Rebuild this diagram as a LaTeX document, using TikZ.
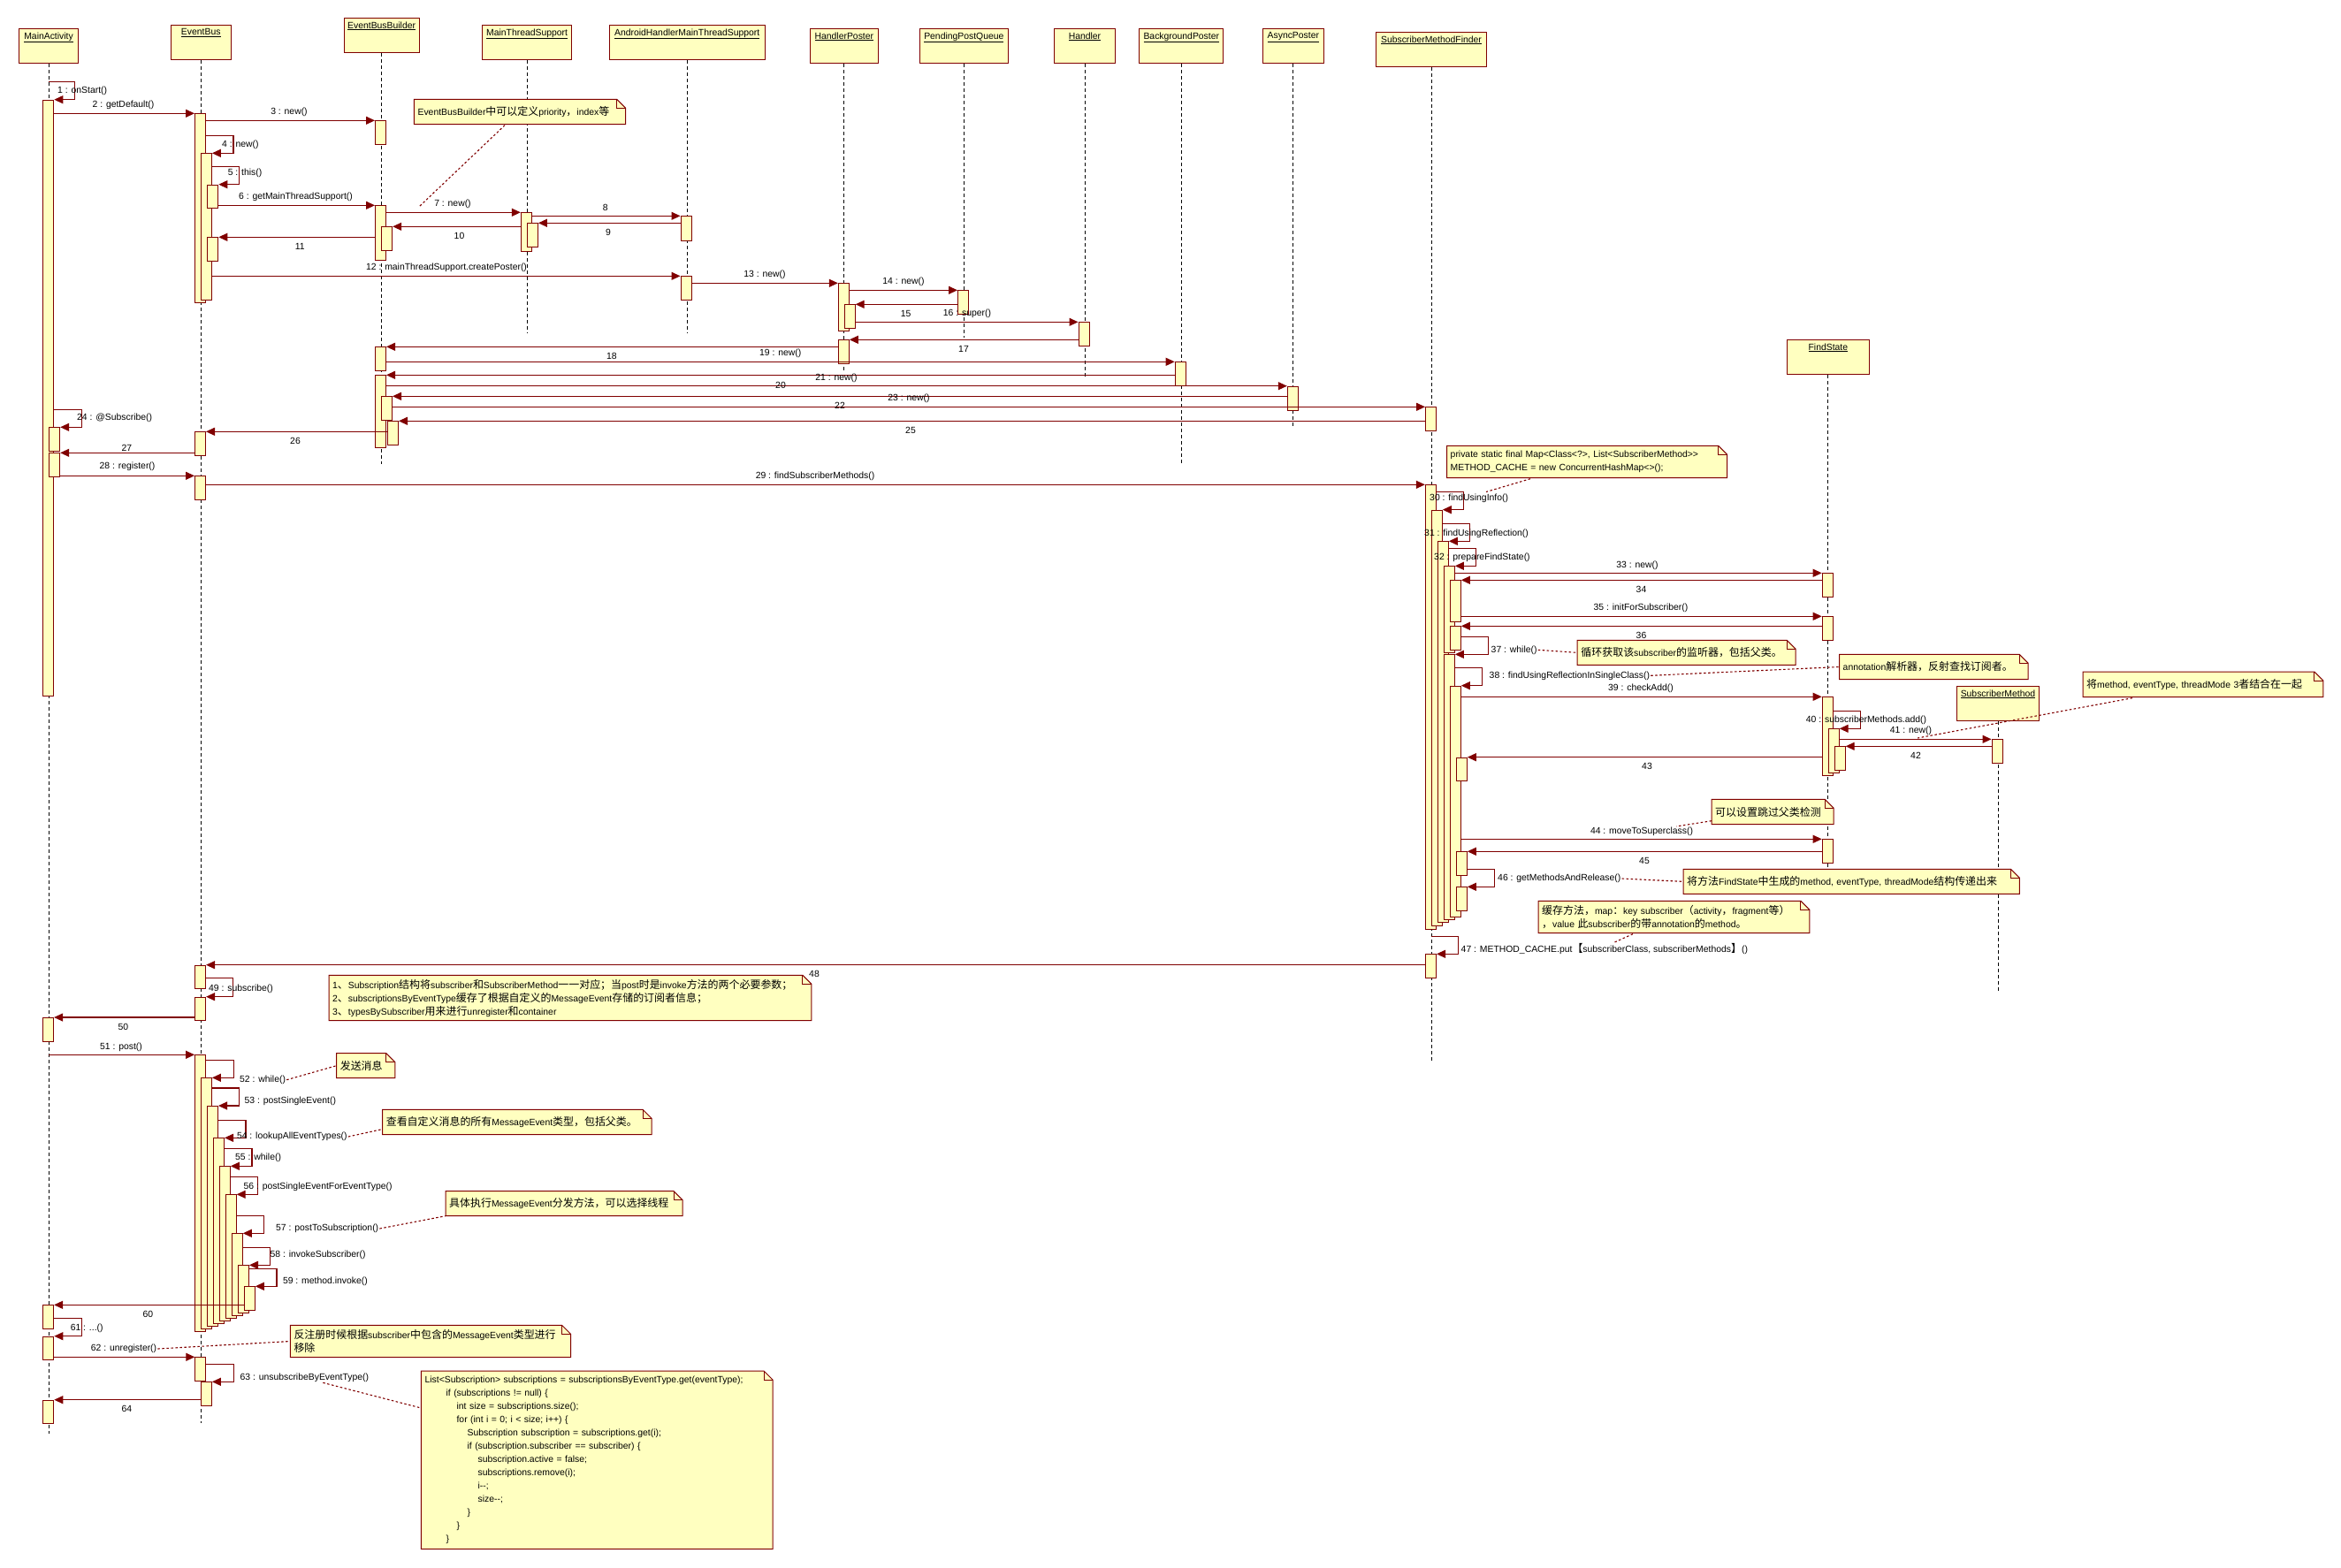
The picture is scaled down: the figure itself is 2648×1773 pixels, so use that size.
\documentclass[tikz,border=0pt]{standalone}
\usepackage{fontspec}
\setmainfont{Liberation Sans}
\newfontfamily\cjk{Noto Sans CJK SC}[Scale=1.15]
\usepackage{tikz}
\usetikzlibrary{arrows.meta}
\usetikzlibrary{calc}

\definecolor{lnred}{RGB}{128,0,0}
\definecolor{boxfill}{RGB}{255,255,192}

\newcommand\diafont{\fontsize{10.4}{15}\selectfont}
\newcommand\zh[1]{{\cjk #1}}
% folded corner of a note
\newcommand\dogear[1]{%
  \fill[white] ([xshift=-10pt]#1.north east) -- (#1.north east) -- ([yshift=-10pt]#1.north east) -- cycle;
  \draw[notebd] (#1.south west) -- (#1.north west) -- ([xshift=-10pt]#1.north east)
    -- ([yshift=-10pt]#1.north east) -- (#1.south east) -- cycle;
  \draw[notebd] ([xshift=-10pt]#1.north east) -- ([xshift=-10pt,yshift=-10pt]#1.north east) -- ([yshift=-10pt]#1.north east);
}

\tikzset{
  obj/.style={draw=lnred, fill=boxfill, line width=1pt, minimum height=39, inner sep=0pt, anchor=north west},
  objtxt/.style={anchor=north, yshift=-3pt, inner sep=1pt},
  bar/.style={draw=lnred, fill=boxfill, line width=1pt, minimum width=12, inner sep=0pt, anchor=north},
  life/.style={line width=0.8pt, dash pattern=on 4pt off 3pt},
  call/.style={draw=lnred, line width=1.1pt, -{Triangle[length=10pt,width=9pt]}},
  lbl/.style={inner sep=1pt},
  note/.style={anchor=north west, fill=boxfill, inner sep=4pt, align=left},
  notebd/.style={draw=lnred, line width=1pt},
  notelink/.style={draw=lnred, line width=1.1pt, dash pattern=on 2.5pt off 2.5pt},
}

\begin{document}
\begin{tikzpicture}[x=1pt, y=-1pt, every node/.style={font=\diafont}]
            \fill[white] (0,0) rectangle (2648,1773);

            % objects
            \node[obj, minimum width=67.7, label={[objtxt]north:\underline{MainActivity}}] (ma) at (20.7,32.3) {};
            \node[obj, minimum width=67.7, label={[objtxt]north:\underline{EventBus}}] (eb) at (192.9,28.3) {};
            \node[obj, minimum width=85, label={[objtxt]north:\underline{EventBusBuilder}}] (bb) at (388.6,20.3) {};
            \node[obj, minimum width=101.6, label={[objtxt]north:\underline{MainThreadSupport}}] (mts) at (544.8,28.3) {};
            \node[obj, minimum width=175.6, label={[objtxt]north:\underline{AndroidHandlerMainThreadSupport}}] (ah) at (688.9,28.3) {};
            \node[obj, minimum width=76.3, label={[objtxt]north:\underline{HandlerPoster}}] (hp) at (916.2,32.3) {};
            \node[obj, minimum width=99.3, label={[objtxt]north:\underline{PendingPostQueue}}] (ppq) at (1040.2,32.3) {};
            \node[obj, minimum width=68.3, label={[objtxt]north:\underline{Handler}}] (hd) at (1192.3,32.3) {};
            \node[obj, minimum width=95.2, label={[objtxt]north:\underline{BackgroundPoster}}] (bp) at (1288.2,32.3) {};
            \node[obj, minimum width=68.3, label={[objtxt]north:\underline{AsyncPoster}}] (ap) at (1428.2,32.3) {};
            \node[obj, minimum width=124.6, label={[objtxt]north:\underline{SubscriberMethodFinder}}] (smf) at (1556.2,36.3) {};
            \node[obj, minimum width=93.3, label={[objtxt]north:\underline{FindState}}] (fs) at (2020.7,384.3) {};
            \node[obj, minimum width=93.3, label={[objtxt]north:\underline{SubscriberMethod}}] (sm) at (2212.8,776.3) {};

            % lifelines
            \foreach \o/\e in {ma/1622, eb/1610, bb/525, mts/377, ah/377, hp/420, ppq/382,
                               hd/429, bp/525, ap/483, smf/1200, fs/985, sm/1123}
                \draw[life] (\o.south) -- (\o.south |- 0,\e);

            % activation bars
            \foreach \n/\x/\y/\h in {ma1/54.8/112.7/674.3, ma2/61.7/483.3/27, ma3/61.7/512.3/27,
                    ma4/54.6/1151/27.3, ma5/54.6/1476.3/27, ma6/54.8/1511.7/26.6, ma7/54.8/1583.7/26.6,
                    eb1/226.5/128.3/214, eb2/233.4/173.3/166, eb3/240.8/208.7/26.6, eb4/240.8/268.3/27,
                    eb5/226.5/488.3/27, eb6/226.5/538.3/27, eb7/226.6/1091.7/26.6, eb8/226.6/1127.7/26.6,
                    eb9/226.6/1193.3/312.7, eb10/233.4/1219.3/283.7, eb11/240.5/1251/249,
                    eb12/247.5/1287.3/209.7, eb13/254.3/1319.3/174.7, eb14/261.2/1351.3/139.7,
                    eb15/268.3/1395.3/92.7, eb16/275.5/1431.3/53.7, eb17/282.3/1455.3/26.7,
                    eb18/226.8/1535.3/27, eb19/233.4/1563.3/27,
                    bb1/430.5/136.3/27, bb2/430.5/232.3/62, bb3/437.7/256.3/27, bb4/430.5/392.3/27,
                    bb5/430.5/424.3/82, bb6/437.5/448.3/27, bb7/444.5/476.3/27,
                    mts1/595.3/240.3/44, mts2/602.4/252.3/27, ah1/776/244.3/27.4, ah2/776/312.3/27,
                    hp1/954.3/320.3/54, hp2/961.2/344.3/27, hp3/954.3/384.3/27, ppq1/1089.5/328.3/27,
                    hd1/1226/364.3/27, bp1/1335.2/409.3/27, ap1/1462.3/436.7/27,
                    sf1/1618.5/460.3/27, sf2/1618.3/548.3/502.4, sf3/1625.3/576.7/470,
                    sf4/1632.3/612.3/431, sf5/1639.3/640.3/98, sf6/1646.3/656.3/47, sf7/1646.3/708.3/27,
                    sf8/1639.3/740.3/299.7, sf9/1646.3/775.7/261.6, sf10/1653.3/856.7/26.6,
                    sf11/1653.3/963.3/26.7, sf12/1653.3/1003.3/26.7, sf13/1618.5/1079.3/26.7,
                    fs1/2067.2/648.3/27, fs2/2067.2/697.3/27, fs3/2067.2/788.3/89, fs4/2074.2/824.3/50,
                    fs5/2081.2/844.3/26.7, fs6/2067.2/949.3/26.7, sm1/2259/836.3/27}
                \node[bar, minimum height=\h] (\n) at (\x,\y) {};

            % messages
            \draw[call] (ma1.north) ++(0,-20.4) -| ++(30,20.4) -- (ma1.north east);
            \draw[call] (ma1.east |- eb1.north) -- (eb1.north west);
            \draw[call] (eb1.east |- bb1.north) -- (bb1.north west);
            \draw[call] (eb1.east |- eb2.north) ++(0,-20) -| ++(31,20) -- (eb2.north east);
            \draw[call] (eb2.east |- eb3.north) ++(0,-20) -| ++(31,20) -- (eb3.north east);
            \draw[call] (eb3.east |- bb2.north) -- (bb2.north west);
            \draw[call] (bb2.east |- mts1.north) -- (mts1.north west);
            \draw[call] (mts1.east |- ah1.north) -- (ah1.north west);
            \draw[call] (ah1.west |- mts2.north) -- (mts2.north east);
            \draw[call] (mts1.west |- bb3.north) -- (bb3.north east);
            \draw[call] (bb2.west |- eb4.north) -- (eb4.north east);
            \draw[call] (eb2.east |- ah2.north) -- (ah2.north west);
            \draw[call] (ah2.east |- hp1.north) -- (hp1.north west);
            \draw[call] (hp1.east |- ppq1.north) -- (ppq1.north west);
            \draw[call] (ppq1.west |- hp2.north) -- (hp2.north east);
            \draw[call] (hp2.east |- hd1.north) -- (hd1.north west);
            \draw[call] (hd1.west |- hp3.north) -- (hp3.north east);
            \draw[call] (hp3.west |- bb4.north) -- (bb4.north east);
            \draw[call] (bb4.east |- bp1.north) -- (bp1.north west);
            \draw[call] (bp1.west |- bb5.north) -- (bb5.north east);
            \draw[call] (bb5.east |- ap1.north) -- (ap1.north west);
            \draw[call] (ap1.west |- bb6.north) -- (bb6.north east);
            \draw[call] (bb6.east |- sf1.north) -- (sf1.north west);
            \draw[call] (ma1.east |- ma2.north) ++(0,-20) -| ++(31,20) -- (ma2.north east);
            \draw[call] (sf1.west |- bb7.north) -- (bb7.north east);
            \draw[call] (bb7.west |- eb5.north) -- (eb5.north east);
            \draw[call] (eb5.west |- ma3.north) -- (ma3.north east);
            \draw[call] (ma3.east |- eb6.north) -- (eb6.north west);
            \draw[call] (eb6.east |- sf2.north) -- (sf2.north west);
            \draw[call] (sf2.east |- sf3.north) ++(0,-20) -| ++(31,20) -- (sf3.north east);
            \draw[call] (sf3.east |- sf4.north) ++(0,-20) -| ++(31,20) -- (sf4.north east);
            \draw[call] (sf4.east |- sf5.north) ++(0,-20) -| ++(31,20) -- (sf5.north east);
            \draw[call] (sf5.east |- fs1.north) -- (fs1.north west);
            \draw[call] (fs1.west |- sf6.north) -- (sf6.north east);
            \draw[call] (sf6.east |- fs2.north) -- (fs2.north west);
            \draw[call] (fs2.west |- sf7.north) -- (sf7.north east);
            \draw[call] (sf7.east |- sf8.north) ++(0,-20) -| ++(31,20) -- (sf8.north east);
            \draw[call] (sf8.east |- sf9.north) ++(0,-20) -| ++(31,20) -- (sf9.north east);
            \draw[call] (sf9.east |- fs3.north) -- (fs3.north west);
            \draw[call] (fs3.east |- fs4.north) ++(0,-20) -| ++(31,20) -- (fs4.north east);
            \draw[call] (fs4.east |- sm1.north) -- (sm1.north west);
            \draw[call] (sm1.west |- fs5.north) -- (fs5.north east);
            \draw[call] (fs3.west |- sf10.north) -- (sf10.north east);
            \draw[call] (sf9.east |- fs6.north) -- (fs6.north west);
            \draw[call] (fs6.west |- sf11.north) -- (sf11.north east);
            \draw[call] (sf11.east |- sf12.north) ++(0,-20) -| ++(31,20) -- (sf12.north east);
            \draw[call] (sf13.north) ++(0,-20) -| ++(31,20) -- (sf13.north east);
            \draw[call] (sf13.west |- eb7.north) -- (eb7.north east);
            \draw[call] (eb7.east |- eb8.north) ++(0,-21) -| ++(30,21) -- (eb8.north east);
            \draw[call] (eb8.west |- ma4.north) -- (ma4.north east);
            \draw[call] (ma.south |- eb9.north) -- (eb9.north west);
            \draw[call] (eb9.east |- eb10.north) ++(0,-20) -| ++(31,20) -- (eb10.north east);
            \draw[call] (eb10.east |- eb11.north) ++(0,-20) -| ++(31,20) -- (eb11.north east);
            \draw[call] (eb11.east |- eb12.north) ++(0,-20) -| ++(31,20) -- (eb12.north east);
            \draw[call] (eb12.east |- eb13.north) ++(0,-20) -| ++(31,20) -- (eb13.north east);
            \draw[call] (eb13.east |- eb14.north) ++(0,-20) -| ++(31,20) -- (eb14.north east);
            \draw[call] (eb14.east |- eb15.north) ++(0,-20) -| ++(31,20) -- (eb15.north east);
            \draw[call] (eb15.east |- eb16.north) ++(0,-20) -| ++(31,20) -- (eb16.north east);
            \draw[call] (eb16.east |- eb17.north) ++(0,-20) -| ++(31,20) -- (eb17.north east);
            \draw[call] (eb17.west |- ma5.north) -- (ma5.north east);
            \draw[call] (ma5.east |- ma6.north) ++(0,-20) -| ++(31,20) -- (ma6.north east);
            \draw[call] (ma6.east |- eb18.north) -- (eb18.north west);
            \draw[call] (eb18.east |- eb19.north) ++(0,-20) -| ++(31,20) -- (eb19.north east);
            \draw[call] (eb19.west |- ma7.north) -- (ma7.north east);

            % message labels
            \node[lbl, anchor=west] (l1) at (64,103) {1 : onStart()};
            \node[lbl] (l2) at (139.5,119) {2 : getDefault()};
            \node[lbl] (l3) at (327,127) {3 : new()};
            \node[lbl, anchor=west] (l4) at (250,164.3) {4 : new()};
            \node[lbl, anchor=west] (l5) at (256.6,196) {5 : this()};
            \node[lbl] (l6) at (334.5,223) {6 : getMainThreadSupport()};
            \node[lbl] (l7) at (512,231) {7 : new()};
            \node[lbl] (l8) at (684.8,235) {8};
            \node[lbl] (l9) at (688,263.3) {9};
            \node[lbl] (l10) at (519.5,266.7) {10};
            \node[lbl] (l11) at (339.2,279.3) {11};
            \node[lbl] (l12) at (505,303) {12 : mainThreadSupport.createPoster()};
            \node[lbl] (l13) at (865,311) {13 : new()};
            \node[lbl] (l14) at (1022,319) {14 : new()};
            \node[lbl] (l15) at (1024.6,355) {15};
            \node[lbl] (l16) at (1094,355) {16 : super()};
            \node[lbl] (l17) at (1090,395) {17};
            \node[lbl] (l18) at (691.8,403.3) {18};
            \node[lbl] (l19) at (882.8,400) {19 : new()};
            \node[lbl] (l20) at (883,435.7) {20};
            \node[lbl] (l21) at (946,427.3) {21 : new()};
            \node[lbl] (l22) at (950,459.3) {22};
            \node[lbl] (l23) at (1028,451) {23 : new()};
            \node[lbl, anchor=west] (l24) at (86,472.3) {24 : @Subscribe()};
            \node[lbl] (l25) at (1030,487.3) {25};
            \node[lbl] (l26) at (334,499) {26};
            \node[lbl] (l27) at (143.5,506.7) {27};
            \node[lbl] (l28) at (144,528) {28 : register()};
            \node[lbl] (l29) at (922,539) {29 : findSubscriberMethods()};
            \node[lbl, anchor=west] (l30) at (1616,564) {30 : findUsingInfo()};
            \node[lbl, anchor=west] (l31) at (1610,603.3) {31 : findUsingReflection()};
            \node[lbl, anchor=west] (l32) at (1621,631) {32 : prepareFindState()};
            \node[lbl] (l33) at (1852,639.3) {33 : new()};
            \node[lbl] (l34) at (1856.5,666.7) {34};
            \node[lbl] (l35) at (1856,688) {35 : initForSubscriber()};
            \node[lbl] (l36) at (1856.5,719) {36};
            \node[lbl, anchor=west] (l37) at (1685.5,735.3) {37 : while()};
            \node[lbl, anchor=west] (l38) at (1683.5,764.3) {38 : findUsingReflectionInSingleClass()};
            \node[lbl] (l39) at (1856,779) {39 : checkAdd()};
            \node[lbl, anchor=west] (l40) at (2041.7,815) {40 : subscriberMethods.add()};
            \node[lbl] (l41) at (2161.5,827) {41 : new()};
            \node[lbl] (l42) at (2167,855) {42};
            \node[lbl] (l43) at (1863,867.3) {43};
            \node[lbl] (l44) at (1857,941) {44 : moveToSuperclass()};
            \node[lbl] (l45) at (1860,974) {45};
            \node[lbl, anchor=west] (l46) at (1693,994) {46 : getMethodsAndRelease()};
            \node[lbl, anchor=west] (l47) at (1651.5,1074) {47 : METHOD\_CACHE.put\zh{【}subscriberClass, subscriberMethods\zh{】}()};
            \node[lbl] (l48) at (921,1102.3) {48};
            \node[lbl, anchor=west] (l49) at (235,1118.3) {49 : subscribe()};
            \node[lbl] (l50) at (139.4,1162.3) {50};
            \node[lbl] (l51) at (137,1185) {51 : post()};
            \node[lbl, anchor=west] (l52) at (270,1221.7) {52 : while()};
            \node[lbl, anchor=west] (l53) at (275.5,1246) {53 : postSingleEvent()};
            \node[lbl, anchor=west] (l54) at (266.8,1286) {54 : lookupAllEventTypes()};
            \node[lbl, anchor=west] (l55) at (265,1310) {55 : while()};
            \node[lbl, anchor=west] (l56) at (274.4,1342.3) {56 : postSingleEventForEventType()};
            \node[lbl, anchor=west] (l57) at (311,1390) {57 : postToSubscription()};
            \node[lbl, anchor=west] (l58) at (304.5,1420) {58 : invokeSubscriber()};
            \node[lbl, anchor=west] (l59) at (318.8,1450) {59 : method.invoke()};
            \node[lbl] (l60) at (167.3,1487) {60};
            \node[lbl, anchor=west] (l61) at (78.6,1502.3) {61 : ...()};
            \node[lbl] (l62) at (140,1526) {62 : unregister()};
            \node[lbl, anchor=west] (l63) at (270.4,1558.3) {63 : unsubscribeByEventType()};
            \node[lbl] (l64) at (143.5,1594) {64};

            % notes
            \node[note, text width=230.8, minimum height=28] (nt1) at (468.4,112.3)
                {EventBusBuilder\zh{中可以定义}priority\zh{，}index\zh{等}};
            \node[note, text width=308.7, minimum height=36] (nt2) at (1636.5,504.3)
                {private static final Map<Class<?>, List<SubscriberMethod>{}>\\METHOD\_CACHE = new ConcurrentHashMap<>();};
            \node[note, text width=238.6, minimum height=27.7] (nt3) at (1784.2,724.3)
                {\zh{循环获取该}subscriber\zh{的监听器，包括父类。}};
            \node[note, text width=205.2, minimum height=28] (nt4) at (2080.5,740.3)
                {annotation\zh{解析器，反射查找订阅者。}};
            \node[note, text width=263.4, minimum height=28.3] (nt5) at (2356,760)
                {\zh{将}method, eventType, threadMode 3\zh{者结合在一起}};
            \node[note, text width=129.7, minimum height=28] (nt6) at (1936,904.3)
                {\zh{可以设置跳过父类检测}};
            \node[note, text width=372, minimum height=27.7] (nt7) at (1904,983.3)
                {\zh{将方法}FindState\zh{中生成的}method, eventType, threadMode\zh{结构传递出来}};
            \node[note, text width=298.5, minimum height=36] (nt8) at (1740,1019.3)
                {\zh{缓存方法，}map\zh{：}key subscriber\zh{（}activity\zh{，}fragment\zh{等）}\\\zh{，}value \zh{此}subscriber\zh{的带}annotation\zh{的}method\zh{。}};
            \node[note, text width=537.5, minimum height=51] (nt9) at (372,1103.3)
                {1\zh{、}Subscription\zh{结构将}subscriber\zh{和}SubscriberMethod\zh{一一对应；当}post\zh{时是}invoke\zh{方法的两个必要参数；}\\
                 2\zh{、}subscriptionsByEventType\zh{缓存了根据自定义的}MessageEvent\zh{存储的订阅者信息；}\\
                 3\zh{、}typesBySubscriber\zh{用来进行}unregister\zh{和}container};
            \node[note, text width=57.8, minimum height=27.6] (nt10) at (380.6,1191.7) {\zh{发送消息}};
            \node[note, text width=296.1, minimum height=28] (nt11) at (432.6,1255.3)
                {\zh{查看自定义消息的所有}MessageEvent\zh{类型，包括父类。}};
            \node[note, text width=259.7, minimum height=27.6] (nt12) at (504,1347.7)
                {\zh{具体执行}MessageEvent\zh{分发方法，可以选择线程}};
            \node[note, text width=308.9, minimum height=36] (nt13) at (328.3,1499.3)
                {\zh{反注册时候根据}subscriber\zh{中包含的}MessageEvent\zh{类型进行}\\\zh{移除}};
            \node[note, text width=389.2, minimum height=201.3] (nt14) at (476.4,1551)
                {List<Subscription> subscriptions = subscriptionsByEventType.get(eventType);\\
                 \hspace*{24pt}if (subscriptions != null) \{\\
                 \hspace*{36pt}int size = subscriptions.size();\\
                 \hspace*{36pt}for (int i = 0; i < size; i++) \{\\
                 \hspace*{48pt}Subscription subscription = subscriptions.get(i);\\
                 \hspace*{48pt}if (subscription.subscriber == subscriber) \{\\
                 \hspace*{60pt}subscription.active = false;\\
                 \hspace*{60pt}subscriptions.remove(i);\\
                 \hspace*{60pt}i-{}-;\\
                 \hspace*{60pt}size-{}-;\\
                 \hspace*{48pt}\}\\
                 \hspace*{36pt}\}\\
                 \hspace*{24pt}\}};
            \foreach \n in {nt1,nt2,nt3,nt4,nt5,nt6,nt7,nt8,nt9,nt10,nt11,nt12,nt13,nt14}
                \dogear{\n};

            % note links
            \coordinate (c1) at (473.6,234.3);
            \coordinate (c2) at (1681,556.5);
            \coordinate (c5) at (2169,835);
            \draw[notelink] (nt1.south west) ++(102.6,1) -- (c1);
            \draw[notelink] (nt2.south west) ++(94.5,1) -- (c2);
            \draw[notelink] (l37.east) -- (nt3.west);
            \draw[notelink] (l38.east) -- (nt4.west);
            \draw[notelink] (nt5.south west) ++(56,1) -- (c5);
            \draw[notelink] ([yshift=4pt]nt6.south west) -- ([xshift=-20pt]l44.north east);
            \draw[notelink] (l46.east) -- (nt7.west);
            \draw[notelink] (nt8.south west) ++(107,1) -- ([xshift=10pt]l47.north);
            \draw[notelink] (l52.east) -- (nt10.west);
            \draw[notelink] (l54.east) -- ([yshift=-8pt]nt11.west);
            \draw[notelink] (l57.east) -- (nt12.south west);
            \draw[notelink] (l62.east) -- (nt13.west);
            \draw[notelink] (l63.south) ++(21,0) -- ([yshift=-42pt]nt14.north west);
        \end{tikzpicture}
\end{document}
